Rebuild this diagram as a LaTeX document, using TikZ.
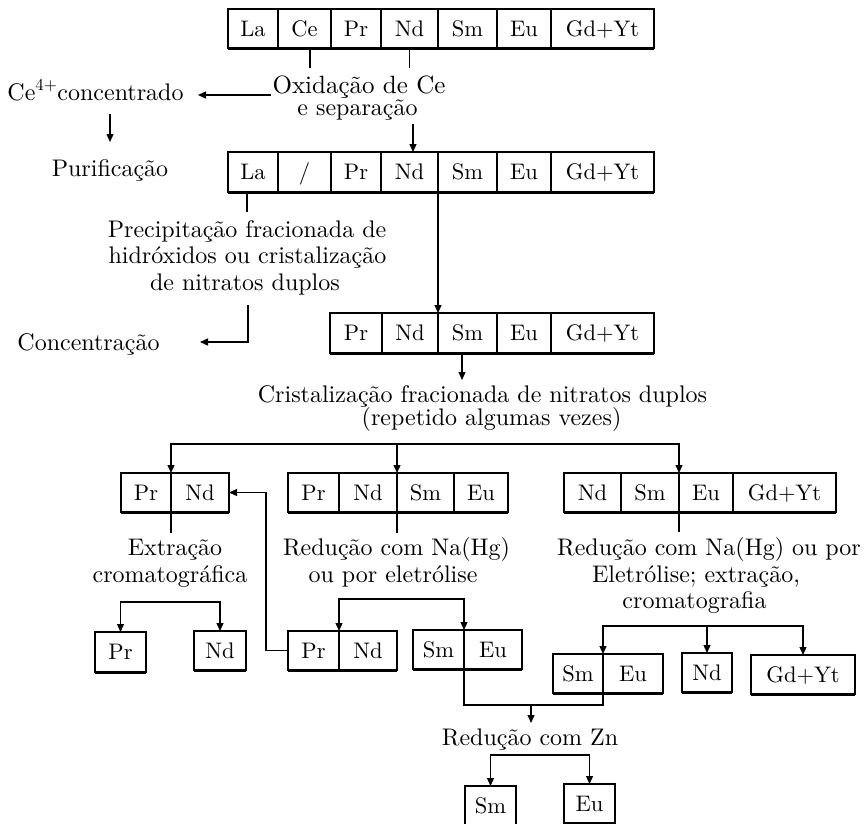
\documentclass[tikz,border=0pt]{standalone}
\usepackage{fontspec}
\setmainfont{lmroman10-regular}[Extension=.otf]
\usetikzlibrary{arrows.meta}
\begin{document}
\begin{tikzpicture}[x=1pt,y=-1pt,
  ln/.style={line width=1.2pt},
  arr/.style={line width=1.2pt,-{Triangle[length=8pt,width=7pt]}},
  both/.style={line width=1.2pt,{Triangle[length=8pt,width=7pt]}-{Triangle[length=8pt,width=7pt]}},
  bot/.style={line width=3pt,yshift=-0.8pt},
  cell/.style={draw,line width=1.1pt,inner sep=0pt,outer sep=0pt,minimum height=39pt,
    text height=15pt,text depth=0pt,font=\fontsize{22.5}{23}\selectfont},
  txt/.style={inner sep=0pt,anchor=base,font=\fontsize{24}{27}\selectfont}]
\useasboundingbox (0,0) rectangle (866,823);

% ---------- row 1 ----------
\node[cell,minimum width=50pt]  (t1) at (253,28.5)   {La};
\node[cell,minimum width=53pt]  (t2) at (304.5,28.5) {Ce};
\node[cell,minimum width=50pt]  (t3) at (356,28.5)   {Pr};
\node[cell,minimum width=57pt]  (t4) at (409.5,28.5) {Nd};
\node[cell,minimum width=59pt]  (t5) at (467.5,28.5) {Sm};
\node[cell,minimum width=54pt]  (t6) at (524,28.5)   {Eu};
\node[cell,minimum width=103pt] (t7) at (602.5,28.5) {Gd+Yt};
\draw[bot] (t1.south west) -- (t7.south east);

% ---------- row 2 ----------
\node[cell,minimum height=40pt,minimum width=50pt]  (r2a) at (253,172)   {La};
\node[cell,minimum height=40pt,minimum width=53pt]  (r2b) at (304.5,172) {/};
\node[cell,minimum height=40pt,minimum width=50pt]  (r2c) at (356,172)   {Pr};
\node[cell,minimum height=40pt,minimum width=57pt]  (r2d) at (409.5,172) {Nd};
\node[cell,minimum height=40pt,minimum width=59pt]  (r2e) at (467.5,172) {Sm};
\node[cell,minimum height=40pt,minimum width=54pt]  (r2f) at (524,172)   {Eu};
\node[cell,minimum height=40pt,minimum width=103pt] (r2g) at (602.5,172) {Gd+Yt};
\draw[bot] (r2a.south west) -- (r2g.south east);

% ---------- row 3 ----------
\node[cell,minimum height=40pt,minimum width=52pt]  (r3p) at (356,333)   {Pr};
\node[cell,minimum height=40pt,minimum width=56pt]  (r3d) at (410,333)   {Nd};
\node[cell,minimum height=40pt,minimum width=59pt]  (r3s) at (467.5,333) {Sm};
\node[cell,minimum height=40pt,minimum width=54pt]  (r3e) at (524,333)   {Eu};
\node[cell,minimum height=40pt,minimum width=103pt] (r3g) at (602.5,333) {Gd+Yt};
\draw[bot] (r3p.south west) -- (r3g.south east);

% ---------- row 4 ----------
\node[cell,minimum width=50pt] (r4ap) at (146,492.5) {Pr};
\node[cell,minimum width=58pt] (r4an) at (200,492.5) {Nd};
\draw[bot] (r4ap.south west) -- (r4an.south east);

\node[cell,minimum width=51pt] (r4bp) at (313.5,492.5) {Pr};
\node[cell,minimum width=58pt] (r4bn) at (368,492.5)   {Nd};
\node[cell,minimum width=57pt] (r4bs) at (425.5,492.5) {Sm};
\node[cell,minimum width=54pt] (r4be) at (481,492.5)   {Eu};
\draw[bot] (r4bp.south west) -- (r4be.south east);

\node[cell,minimum width=57pt]  (r4cn) at (592.5,492.5) {Nd};
\node[cell,minimum width=58pt]  (r4cs) at (650,492.5)   {Sm};
\node[cell,minimum width=54pt]  (r4ce) at (706,492.5)   {Eu};
\node[cell,minimum width=103pt] (r4cg) at (784.5,492.5) {Gd+Yt};
\draw[bot] (r4cn.south west) -- (r4cg.south east);

% ---------- row 5 ----------
\node[cell,minimum height=40pt,minimum width=51pt] (blpr) at (120.5,652) {Pr};
\draw[bot] (blpr.south west) -- (blpr.south east);
\node[cell,minimum width=52pt] (blnd) at (220,650.5) {Nd};
\draw[bot] (blnd.south west) -- (blnd.south east);

\node[cell,minimum width=51pt] (dpr) at (313.5,650.5) {Pr};
\node[cell,minimum width=58pt] (dnd) at (368,650.5)   {Nd};
\draw[bot] (dpr.south west) -- (dnd.south east);

\node[cell,minimum width=51pt] (esm) at (438.5,649.5) {Sm};
\node[cell,minimum width=58pt] (eeu) at (493,649.5)   {Eu};
\draw[bot] (esm.south west) -- (eeu.south east);

\node[cell,minimum width=50pt] (fsm) at (578,673.5) {Sm};
\node[cell,minimum width=60pt] (feu) at (633,673.5) {Eu};
\draw[bot] (fsm.south west) -- (feu.south east);

\node[cell,minimum width=50pt] (gnd) at (707,672.5) {Nd};
\draw[bot] (gnd.south west) -- (gnd.south east);

\node[cell,minimum width=104pt] (hgd) at (803,674.5) {Gd+Yt};
\draw[bot] (hgd.south west) -- (hgd.south east);

% ---------- final ----------
\node[cell,minimum width=51pt] (zsm) at (490.5,805.5) {Sm};
\node[cell,minimum width=51pt] (zeu) at (589.5,803.5) {Eu};

% ---------- texts ----------
\node[txt,font=\fontsize{25}{27}\selectfont] (ox) at (359,93) {Oxidação de Ce};
\node[txt] (sep) at (357.5,115) {e separação};
\node[txt] (ce4) at (95.5,100) {Ce\textsuperscript{4+}concentrado};
\node[txt] (puri) at (110,176) {Purificação};
\node[txt] (prec1) at (247,237) {Precipitação fracionada de};
\node[txt] (prec2) at (247.5,263) {hidróxidos ou cristalização};
\node[txt] (prec3) at (245,290) {de nitratos duplos};
\node[txt] (conc) at (88.5,350) {Concentração};
\node[txt] (crist1) at (482.5,402) {Cristalização fracionada de nitratos duplos};
\node[txt] (crist2) at (491.5,425) {(repetido algumas vezes)};
\node[txt] (extr1) at (175,555) {Extração};
\node[txt] (extr2) at (170,582) {cromatográfica};
\node[txt] (red1a) at (396.5,555) {Redução com Na(Hg)};
\node[txt] (red1b) at (393,582) {ou por eletrólise};
\node[txt] (red2a) at (709,555) {Redução com Na(Hg) ou por};
\node[txt] (red2b) at (696,582) {Eletrólise; extração,};
\node[txt] (red2c) at (694.5,608) {cromatografia};
\node[txt] (zn) at (530,745) {Redução com Zn};

% ---------- free ends ----------
\coordinate (oxl) at (271,95);
\coordinate (cel) at (198,95);
\coordinate (ce4d) at (110,114);
\coordinate (puru) at (110,142);
\coordinate (precd) at (248,305);
\coordinate (concr) at (200,342);
\coordinate (s1) at (397,444);
\coordinate (s2) at (170,602);
\coordinate (s3) at (400,599);
\coordinate (s4) at (707,626);
\coordinate (s5) at (531,705);
\coordinate (s6) at (540,755);

% ---------- connectors ----------
\draw[ln] ([xshift=5.5pt]t2.south) -- ++(0,20);
\draw[ln] (t4.south) -- ++(0,20);
\draw[arr] (oxl) -- (cel);
\draw[arr] (ce4d) -- (puru);
\draw[arr] ([xshift=3.5pt,yshift=28pt]r2d.north) -- ([xshift=3.5pt]r2d.north);
\draw[ln] ([xshift=-6pt]r2a.south) -- ++(0,20);
\draw[arr] (r2d.south east) -- (r3d.north east);
\draw[arr] (precd) -- ++(0,37) -- (concr);
\draw[arr] ([xshift=-5.5pt]r3s.south) -- ++(0,27);

\draw[arr] (s1) -| (r4ap.north east);
\draw[arr] (s1) -| (r4cs.north east);
\draw[arr] (s1) -- (r4bn.north east);

\draw[ln] (r4ap.south east) -- ++(0,21);
\draw[ln] (r4bn.south east) -- ++(0,21);
\draw[ln] (r4cs.south east) -- ++(0,20);

\draw[both] (blpr.north) |- (s2) -| (blnd.north);
\draw[arr] (dpr.west) -- ++(-22,0) |- (r4an.east);
\draw[both] (dpr.north east) |- (s3) -| (esm.north east);
\draw[both] (fsm.north east) |- (s4) -| (hgd.north);
\draw[arr] (s4) -- (gnd.north);
\draw[ln] (esm.south east) -- ++(0,36) -| (fsm.south east);
\draw[arr] (s5) -- ++(0,18);
\draw[both] (zsm.north) |- (s6) -| (zeu.north);
\end{tikzpicture}
\end{document}
